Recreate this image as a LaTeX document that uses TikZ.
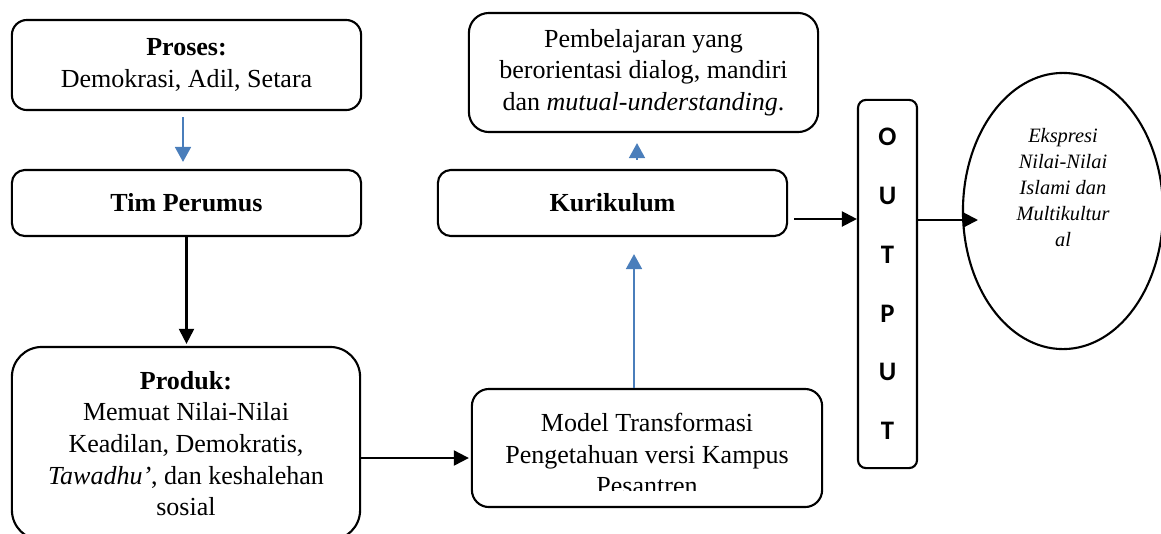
\documentclass[tikz,border=0pt]{standalone}
\usepackage{fontspec}
\setmainfont{Liberation Serif}
\newfontfamily\outfont{Carlito}
\usetikzlibrary{arrows.meta,shapes.geometric}
\definecolor{wblue}{RGB}{74,126,187}
\newcommand\mainsz{\fontsize{7.4}{9}\selectfont}
\tikzset{
  box/.style={draw, line width=0.6pt, rectangle, inner sep=0pt, align=center, font=\mainsz},
  txt/.style={inner sep=0pt, align=center, font=\mainsz},
  barr/.style={line width=0.6pt, -{Triangle[length=0.15cm,width=0.15cm]}},
  blarr/.style={wblue, line width=0.5pt, -{Triangle[length=0.15cm,width=0.16cm]}}
}
\begin{document}
\begin{tikzpicture}[x=0.01cm,y=-0.01cm]
\useasboundingbox (0,0) rectangle (1161,533);
% left column
\node[box, rounded corners=0.15cm, minimum width=3.49cm, minimum height=0.90cm] (pro) at (186.5,65)
  {\textbf{Proses:}\\Demokrasi, Adil, Setara};
\node[box, rounded corners=0.13cm, minimum width=3.49cm, minimum height=0.66cm, font=\mainsz\bfseries] (tim) at (186.5,203)
  {Tim Perumus};
\node[box, rounded corners=0.3cm, minimum width=3.48cm, minimum height=1.93cm] (prod) at (186,443.5)
  {\textbf{Produk:}\\Memuat Nilai-Nilai\\Keadilan, Demokratis,\\\textit{Tawadhu'}, dan keshalehan\\sosial};
% middle column
\node[box, rounded corners=0.17cm, minimum width=3.50cm, minimum height=1.18cm] (mod) at (647,448) {};
\begin{scope}
  \clip (472,389) rectangle (822,490);
  \node[txt] (modt) at (647,454) {Model Transformasi\\Pengetahuan versi Kampus\\Pesantren};
\end{scope}
\node[box, rounded corners=0.13cm, minimum width=3.49cm, minimum height=0.66cm, font=\mainsz\bfseries] (kur) at (612.5,203)
  {Kurikulum};
\node[box, rounded corners=0.2cm, minimum width=3.49cm, minimum height=1.19cm] (pemb) at (643.5,72.5)
  {Pembelajaran yang\\berorientasi dialog, mandiri\\dan \textit{mutual-understanding}.};
% output
\node[box, rounded corners=0.08cm, minimum width=0.59cm, minimum height=3.68cm,
      font={\outfont\fontsize{7.6}{16.7}\selectfont\bfseries}] (out) at (887.5,284)
  {O\\U\\T\\P\\U\\T};
\node[draw, ellipse, line width=0.6pt, minimum width=2.0cm, minimum height=2.76cm, inner sep=0pt] (ell) at (1063,211) {};
\node[inner sep=0pt, align=center, font={\fontsize{5.8}{7.35}\selectfont\itshape}] (ellt) at (1063,187.5)
  {Ekspresi\\Nilai-Nilai\\Islami dan\\Multikultur\\al};
% connectors
\draw[blarr, shorten <=0.06cm, shorten >=0.07cm] ([xshift=-0.035cm]pro.south) -- ([xshift=-0.035cm]tim.north);
\draw[barr, shorten >=0.02cm] (tim.south) -- (tim.south |- prod.north);
\coordinate (pa) at (360,458);
\draw[barr, shorten >=0.02cm] (prod.east |- pa) -- (mod.west |- pa);
\coordinate (bx) at (634,0);
\draw[blarr, shorten >=0.17cm] (mod.north -| bx) -- (kur.south -| bx);
\coordinate (cx) at (637,0);
\draw[blarr, shorten <=0.09cm, shorten >=0.10cm] (kur.north -| cx) -- (pemb.south -| cx);
\coordinate (ka) at (0,219);
\draw[barr, shorten <=0.06cm] (kur.east |- ka) -- (out.west |- ka);
\coordinate (ea) at (978,220);
\draw[barr] (out.east |- ea) -- (ea);
\end{tikzpicture}
\end{document}
